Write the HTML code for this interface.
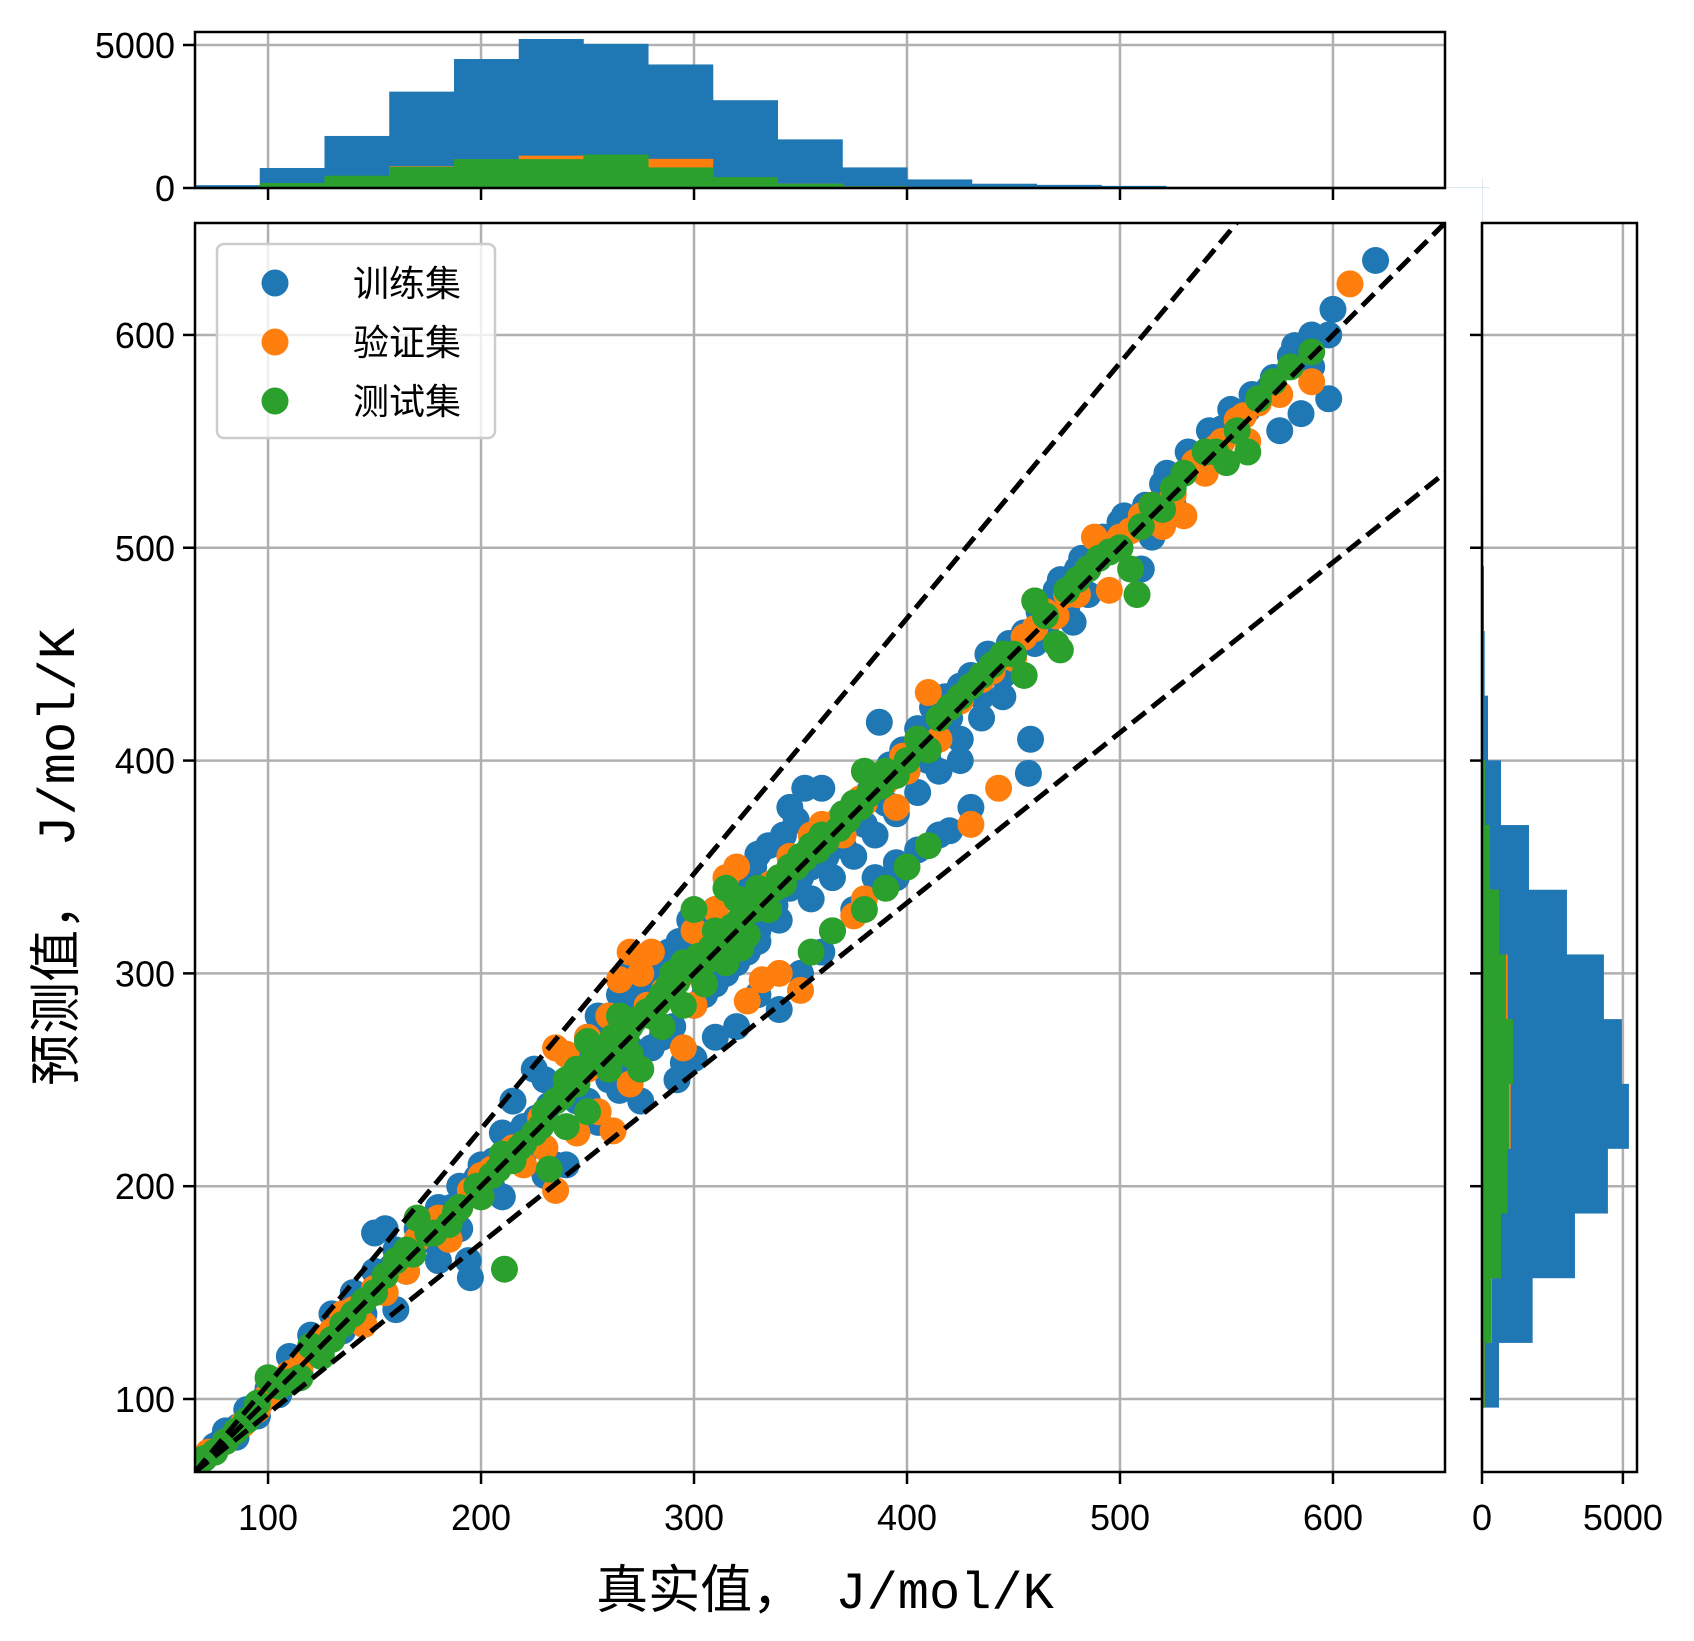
<!DOCTYPE html>
<html><head><meta charset="utf-8">
<style>
html,body{margin:0;padding:0;background:#fff;}
svg{display:block;font-family:"Liberation Sans","Noto Sans CJK SC",sans-serif;}
</style></head>
<body>
<svg id="chart" width="1694" height="1641" viewBox="0 0 1694 1641" xmlns="http://www.w3.org/2000/svg">
<rect width="1694" height="1641" fill="#fff"/>
<g id="grid"></g>
<g id="hists"></g>
<g id="main-clip-group"></g>
<g id="axes"></g>
</svg>
<script>
// ---------- data ----------
const binStart = 65.7;
const binWidth = 30.4;
const topBlue   = [100,700,1820,3370,4510,5210,5040,4320,3070,1700,720,300,150,110,75,30,15,10,5,5];
const topOrange = [20,170,420,760,1000,1130,1100,1020,370,150,60,20,10,5,0,0,0,0,0,0];
const topGreen  = [20,175,430,740,1010,1010,1170,720,380,150,60,20,10,5,0,0,0,0,0,0];
const rightBlue   = [20,603,1797,3298,4468,5213,4964,4326,3014,1667,674,213,95,71,40,30,20,10,5,5];
const rightOrange = [10,100,355,650,880,1017,1050,910,580,270,100,45,20,10,0,0,0,0,0,0];
const rightGreen  = [10,95,331,674,910,958,1099,851,603,284,106,47,20,10,0,0,0,0,0,0];
const xTicks = [100,200,300,400,500,600];
const yTicks = [100,200,300,400,500,600];
const countTicks = [0,5000];
const slopes = [1.2,1.0,0.8];
const legendLabels = ["训练集","验证集","测试集"];
const trainPts = [[620,635],[600,612],[598,600],[590,600],[598,570],[585,563],[575,555],[565,570],[555,560],[548,556],[540,545],[530,535],[520,530],[515,505],[510,490],[500,512],[490,495],[480,490],[478,465],[470,480],[460,455],[450,450],[440,445],[430,440],[425,400],[420,420],[410,410],[400,395],[387,418],[420,367],[430,378],[458,410],[457,394],[405,358],[395,352],[360,387],[352,387],[345,378],[355,360],[340,340],[330,356],[320,345],[310,330],[300,320],[290,300],[280,290],[270,300],[265,290],[260,280],[255,280],[250,270],[240,262],[230,250],[225,255],[215,240],[210,225],[200,210],[190,200],[180,190],[170,180],[160,170],[150,178],[155,180],[150,160],[140,150],[130,140],[120,130],[110,120],[100,105],[90,95],[80,85],[75,78],[70,72],[340,283],[330,290],[320,275],[310,270],[300,260],[292,250],[295,258],[275,240],[265,245],[255,230],[240,210],[235,210],[230,205],[210,195],[195,157],[194,165],[160,142],[190,180],[180,165],[350,300],[360,310],[365,320],[375,330],[385,345],[395,345],[415,365],[370,360],[380,370],[390,380],[400,400],[410,400],[350,345],[330,320],[325,310],[315,300],[305,290],[285,270],[270,265],[262,255],[245,240],[220,215],[205,200],[185,185],[175,175],[165,160],[145,140],[135,132],[125,122],[115,112],[105,102],[95,92],[85,82],[560,565],[570,575],[580,590],[590,585],[545,550],[535,540],[525,520],[505,510],[495,500],[485,478],[475,470],[465,462],[455,460],[445,440],[435,430],
[250,265],[255,272],[260,270],[268,285],[272,290],[278,296],[285,305],[288,310],[293,315],[298,325],[303,318],[308,325],[318,340],[322,348],[328,350],[335,360],[342,365],[348,372],[338,332],[345,340],[355,350],[362,355],[368,372],[375,378],[382,385],[392,398],[398,405],[405,415],[412,425],[418,430],[425,435],[438,450],[448,455],[462,470],[472,485],[482,495],[492,505],[502,515],[512,520],[522,535],[532,545],[542,555],[552,565],[562,572],[572,580],[582,595],[245,250],[238,245],[232,238],[226,232],[220,228],[212,218],[206,212],[198,204],[192,196],[186,190],[178,182],[172,176],[166,170],[158,162],[152,155],[146,148],[138,142],[132,135],[126,128],[118,121],[112,115],[106,108],[98,100],[92,93],[86,87],[78,80],[290,275],[280,265],[270,258],[260,250],[250,240],[300,285],[310,295],[320,305],[330,315],[340,325],[355,335],[365,345],[375,355],[385,365],[395,375],[405,385],[415,395],[425,410],[435,420],[445,430]];
const valPts = [[608,624],[590,578],[575,572],[565,568],[560,550],[555,560],[545,547],[540,535],[535,540],[530,515],[525,525],[520,510],[510,515],[500,505],[495,480],[480,478],[470,468],[460,462],[450,448],[440,442],[410,432],[405,410],[400,395],[395,378],[390,390],[380,380],[443,387],[430,370],[375,327],[380,335],[350,292],[340,300],[332,297],[325,287],[320,350],[315,345],[310,330],[300,320],[295,265],[290,290],[280,310],[275,300],[270,310],[265,297],[260,280],[250,270],[240,262],[235,265],[235,198],[230,218],[245,225],[255,235],[262,226],[270,248],[220,210],[210,215],[200,205],[190,190],[180,185],[170,175],[165,160],[155,150],[145,135],[135,140],[125,128],[115,115],[105,108],[95,95],[88,88],[80,80],[72,75],[200,195],[185,175],[300,285],[310,310],[355,365],[345,355],[360,370],[370,365],[420,425],[415,410],[485,490],[488,505],
[250,255],[258,262],[266,272],[278,285],[286,292],[295,300],[305,312],[316,322],[326,332],[336,342],[348,352],[358,360],[368,372],[378,382],[388,392],[398,402],[425,428],[435,438],[455,458],[465,470],[475,478],[505,508],[515,520],[548,550],[558,562],[228,232],[215,218],[205,208],[195,198],[175,178],[160,163],[150,152],[140,142],[130,132],[120,122],[110,112],[100,102]];
const testPts = [[590,592],[580,585],[572,578],[560,545],[550,540],[545,545],[520,518],[510,510],[508,478],[505,490],[500,500],[490,495],[480,485],[470,455],[460,475],[455,440],[450,450],[440,445],[430,435],[420,425],[410,405],[400,400],[390,395],[380,395],[375,380],[365,320],[355,310],[400,350],[410,360],[390,340],[380,330],[370,375],[360,365],[350,355],[340,345],[330,340],[320,335],[315,340],[310,320],[300,330],[295,305],[290,300],[285,290],[280,280],[270,275],[262,270],[255,262],[250,268],[245,255],[240,250],[235,240],[230,235],[225,225],[220,220],[215,212],[210,215],[205,205],[200,195],[211,161],[232,208],[190,190],[185,182],[175,178],[170,185],[165,170],[160,165],[150,150],[140,140],[130,128],[125,120],[120,125],[115,110],[110,108],[100,110],[95,98],[85,85],[75,75],[70,72],[265,280],[275,255],[250,235],[240,228],[305,305],[325,318],[335,330],[345,350],[355,360],[385,390],[395,393],[435,440],[445,450],[465,468],[475,480],[515,520],[530,535],[540,545],[472,452],[460,475],
[252,258],[258,265],[262,262],[268,270],[272,278],[278,282],[283,286],[288,294],[292,296],[298,302],[302,308],[308,312],[312,315],[318,322],[322,326],[328,330],[332,335],[338,340],[342,342],[348,350],[352,354],[358,358],[362,362],[368,368],[372,372],[378,378],[382,384],[388,388],[405,410],[415,420],[425,430],[485,490],[495,498],[525,528],[555,555],[565,570],[245,248],[238,242],[228,228],[218,218],[208,208],[198,200],[188,188],[178,178],[168,168],[155,158],[145,146],[135,135],[105,106],[90,90],[80,80],[285,275],[295,285],[305,295],[315,305],[322,312],[260,255],[270,262]];

// ---------- layout ----------
const M = {l:195, t:223, r:1445, b:1472};
const TH = {t:32, b:188};
const RH = {l:1482, r:1637};
const vMin = 65.7, vMax = 652.6;
const cMaxTop = 5455, cMaxRight = 5500;
const colors = ["#1f77b4","#ff7f0e","#2ca02c"];
const NS = "http://www.w3.org/2000/svg";
const X = v => M.l + (v - vMin) / (vMax - vMin) * (M.r - M.l);
const Y = v => M.b - (v - vMin) / (vMax - vMin) * (M.b - M.t);
const TY = c => TH.b - c / cMaxTop * (TH.b - TH.t);
const RX = c => RH.l + c / cMaxRight * (RH.r - RH.l);

function mk(tag, attrs, parent, text){
  const e = document.createElementNS(NS, tag);
  for (const k in attrs) e.setAttribute(k, attrs[k]);
  if (text !== undefined) e.textContent = text;
  parent.appendChild(e);
  return e;
}
const svg = document.getElementById('chart');
const grid = document.getElementById('grid');
const hists = document.getElementById('hists');
const mg = document.getElementById('main-clip-group');
const axes = document.getElementById('axes');

const defs = mk('defs', {}, svg);
const cp = mk('clipPath', {id:'mclip'}, defs);
mk('rect', {x:M.l, y:M.t, width:M.r-M.l, height:M.b-M.t}, cp);
mg.setAttribute('clip-path','url(#mclip)');

// gridlines
xTicks.forEach(v => {
  const g1 = mk('line', {x1:X(v), x2:X(v), y1:M.t, y2:M.b, stroke:'#b0b0b0', 'stroke-width':2.5}, grid);
  
  
  const g2 = mk('line', {x1:X(v), x2:X(v), y1:TH.t, y2:TH.b, stroke:'#b0b0b0', 'stroke-width':2.5}, grid);
  
  
});
yTicks.forEach(v => {
  const g1 = mk('line', {x1:M.l, x2:M.r, y1:Y(v), y2:Y(v), stroke:'#b0b0b0', 'stroke-width':2.5}, grid);
  
  
  const g2 = mk('line', {x1:RH.l, x2:RH.r, y1:Y(v), y2:Y(v), stroke:'#b0b0b0', 'stroke-width':2.5}, grid);
  
  
});
countTicks.forEach(c => {
  const g1 = mk('line', {x1:M.l, x2:M.r, y1:TY(c), y2:TY(c), stroke:'#b0b0b0', 'stroke-width':2.5}, grid);
  
  
  const g2 = mk('line', {x1:RX(c), x2:RX(c), y1:M.t, y2:M.b, stroke:'#b0b0b0', 'stroke-width':2.5}, grid);
  
  
});

// histograms
function topHist(arr, color, name){
  arr.forEach((c, i) => {
    if (c <= 0) return;
    const x0 = X(binStart + i*binWidth), x1 = X(binStart + (i+1)*binWidth);
    const r = mk('rect', {x:x0, y:TY(c), width:x1-x0+0.3, height:TY(0)-TY(c), fill:color}, hists);
    
    
  });
}
function rightHist(arr, color, name){
  arr.forEach((c, i) => {
    if (c <= 0) return;
    const y0 = Y(binStart + (i+1)*binWidth), y1 = Y(binStart + i*binWidth);
    const r = mk('rect', {x:RX(0), y:y0, width:RX(c)-RX(0), height:y1-y0+0.3, fill:color}, hists);
    
    
  });
}
topHist(topBlue, colors[0], 'top-hist-bar-train');
topHist(topOrange, colors[1], 'top-hist-bar-val');
topHist(topGreen, colors[2], 'top-hist-bar-test');
rightHist(rightBlue, colors[0], 'right-hist-bar-train');
rightHist(rightOrange, colors[1], 'right-hist-bar-val');
rightHist(rightGreen, colors[2], 'right-hist-bar-test');

// scatter
function scatter(pts, color, name){
  pts.forEach(p => {
    const c = mk('circle', {cx:X(p[0]), cy:Y(p[1]), r:13.5, fill:color}, mg);
    
    
  });
}
scatter(trainPts, colors[0], 'train-point');
scatter(valPts, colors[1], 'val-point');
scatter(testPts, colors[2], 'test-point');

// dashed reference lines
slopes.forEach(s => {
  const xe = vMin + (vMax - vMin) / Math.max(s,1);
  const ye = vMin + (xe - vMin) * s;
  const l = mk('line', {x1:X(vMin), y1:Y(vMin), x2:X(xe), y2:Y(ye), stroke:'#000', 'stroke-width':5, 'stroke-dasharray':'17,8'}, mg);
  
  
});

// spines
function box(x0,y0,x1,y1,name){
  const r = mk('rect', {x:x0, y:y0, width:x1-x0, height:y1-y0, fill:'none', stroke:'#000', 'stroke-width':2.5}, axes);
  
  
}
box(M.l,M.t,M.r,M.b,'main-axes-frame');
box(M.l,TH.t,M.r,TH.b,'top-hist-frame');
box(RH.l,M.t,RH.r,M.b,'right-hist-frame');

const tickFont = 36;
xTicks.forEach(v => {
  const t = mk('line', {x1:X(v), x2:X(v), y1:M.b, y2:M.b+12, stroke:'#000', 'stroke-width':2.5}, axes);
  
  
  const t2 = mk('line', {x1:X(v), x2:X(v), y1:TH.b, y2:TH.b+12, stroke:'#000', 'stroke-width':2.5}, axes);
  
  
  const lb = mk('text', {x:X(v), y:M.b+58, 'font-size':tickFont, 'text-anchor':'middle'}, axes, String(v));
  
  
});
yTicks.forEach(v => {
  const t = mk('line', {x1:M.l-12, x2:M.l, y1:Y(v), y2:Y(v), stroke:'#000', 'stroke-width':2.5}, axes);
  
  
  const t2 = mk('line', {x1:RH.l-12, x2:RH.l, y1:Y(v), y2:Y(v), stroke:'#000', 'stroke-width':2.5}, axes);
  
  
  const lb = mk('text', {x:M.l-20, y:Y(v)+13, 'font-size':tickFont, 'text-anchor':'end'}, axes, String(v));
  
  
});
countTicks.forEach(c => {
  const t = mk('line', {x1:M.l-12, x2:M.l, y1:TY(c), y2:TY(c), stroke:'#000', 'stroke-width':2.5}, axes);
  
  
  const lb = mk('text', {x:M.l-20, y:TY(c)+13, 'font-size':tickFont, 'text-anchor':'end'}, axes, String(c));
  
  
  const t2 = mk('line', {x1:RX(c), x2:RX(c), y1:M.b, y2:M.b+12, stroke:'#000', 'stroke-width':2.5}, axes);
  
  
  const lb2 = mk('text', {x:RX(c), y:M.b+58, 'font-size':tickFont, 'text-anchor':'middle'}, axes, String(c));
  
  
});

// axis titles (monospace-like Latin to mimic wide SimHei glyphs)
const titleFont = '"Liberation Mono","Noto Sans CJK SC",monospace';
const xt = mk('text', {x:825, y:1608, 'font-size':52, 'text-anchor':'middle', 'font-family':titleFont}, axes, '真实值， J/mol/K');


const yt = mk('text', {x:0, y:0, 'font-size':52, 'text-anchor':'middle', 'font-family':titleFont, transform:'translate(74,857) rotate(-90)'}, axes, '预测值， J/mol/K');



// legend
const lg = mk('g', {}, axes);


const lr = mk('rect', {x:217, y:244, width:278, height:194, rx:7, fill:'#fff', 'fill-opacity':0.8, stroke:'#ccc', 'stroke-width':2.5}, lg);


legendLabels.forEach((lab, i) => {
  const cy = 283 + i*59;
  const c = mk('circle', {cx:275, cy:cy, r:13.5, fill:colors[i]}, lg);
  
  
  const t = mk('text', {x:353, y:cy+13, 'font-size':36}, lg, lab);
  
  
});
</script>
</body></html>
